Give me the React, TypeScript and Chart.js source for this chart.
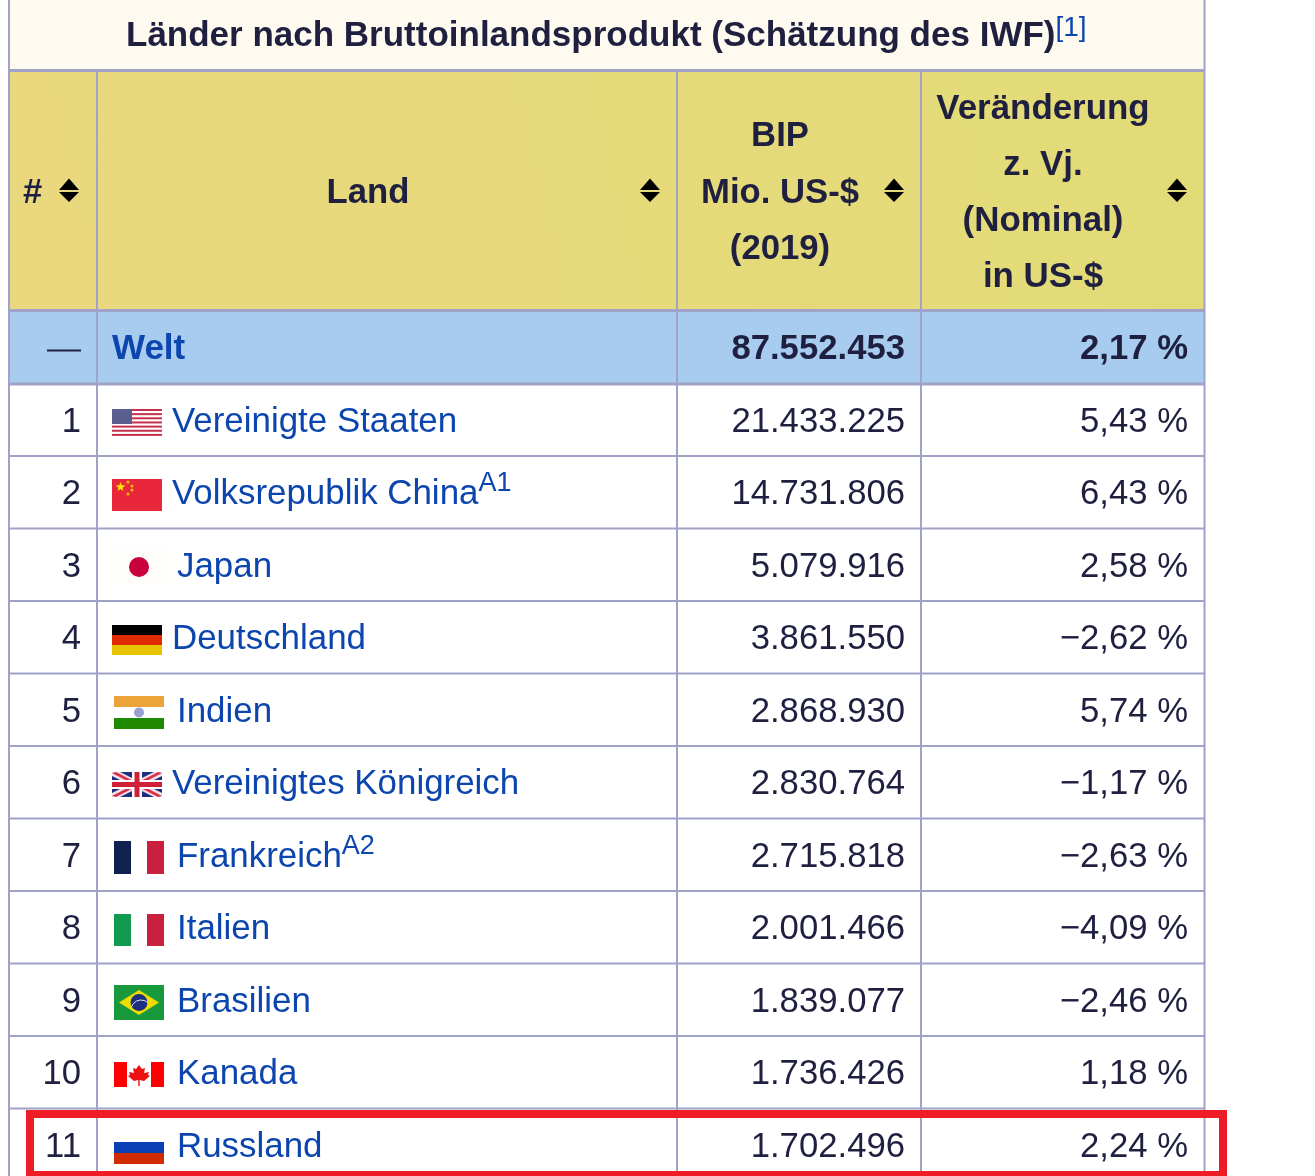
import React, { useEffect, useRef } from "react";
import { Chart, registerables } from "chart.js";

Chart.register(...registerables);

const tableTitle = "Länder nach Bruttoinlandsprodukt (Schätzung des IWF)";
const titleRef = "[1]";
const worldLabel = "Welt";
const worldGdp = 87552453;
const worldChange = 2.17;
const ranks = [1, 2, 3, 4, 5, 6, 7, 8, 9, 10, 11];
const countries = ["Vereinigte Staaten", "Volksrepublik China", "Japan", "Deutschland", "Indien", "Vereinigtes Königreich", "Frankreich", "Italien", "Brasilien", "Kanada", "Russland"];
const notes = ["", "A1", "", "", "", "", "A2", "", "", "", ""];
const flags = ["us", "cn", "jp", "de", "in", "gb", "fr", "it", "br", "ca", "ru"];
const gdpValues = [21433225, 14731806, 5079916, 3861550, 2868930, 2830764, 2715818, 2001466, 1839077, 1736426, 1702496];
const changes = [5.43, 6.43, 2.58, -2.62, 5.74, -1.17, -2.63, -4.09, -2.46, 1.18, 2.24];
const headGdp = ["BIP", "Mio. US-$", "(2019)"];
const headChange = ["Veränderung", "z. Vj.", "(Nominal)", "in US-$"];

const W = 1315, H = 1176;
const rowLines = [383.5, 456, 528.5, 601, 673.5, 746, 818.5, 891, 963.5, 1036, 1108.5];
const INK = "#1f2040", LINK = "#0b45ad", LINE = "#a0a2c8";
const FS = 34.7;

const fmtGdp = (v: number) => v.toLocaleString("de-DE");
const fmtChange = (v: number) => (v < 0 ? "−" : "") + Math.abs(v).toFixed(2).replace(".", ",") + " %";

const tablePlugin = {
  id: "table",
  afterDraw(chart: any) {
    const c = chart.ctx as CanvasRenderingContext2D;
    const X = (v: number) => chart.scales.x.getPixelForValue(v);
    const Y = (v: number) => chart.scales.y.getPixelForValue(v);
    const rect = (x0: number, y0: number, x1: number, y1: number, col: any) => {
      c.fillStyle = col;
      c.fillRect(X(x0), Y(y0), X(x1) - X(x0), Y(y1) - Y(y0));
    };
    const text = (s: string, x: number, y: number, o: any = {}) => {
      c.font = `${o.bold ? "bold " : ""}${o.size || FS}px "Liberation Sans", Arial, sans-serif`;
      c.fillStyle = o.color || INK;
      c.textAlign = o.align || "left";
      c.textBaseline = "alphabetic";
      c.fillText(s, X(x), Y(y));
      return c.measureText(s).width;
    };
    const poly = (pts: number[][], col: string) => {
      c.fillStyle = col;
      c.beginPath();
      pts.forEach((p, i) => (i ? c.lineTo(X(p[0]), Y(p[1])) : c.moveTo(X(p[0]), Y(p[1]))));
      c.closePath();
      c.fill();
    };
    const disc = (x: number, y: number, r: number, col: string) => {
      c.fillStyle = col;
      c.beginPath();
      c.arc(X(x), Y(y), r, 0, Math.PI * 2);
      c.fill();
    };
    const star = (x: number, y: number, r: number, col: string) => {
      const pts: number[][] = [];
      for (let k = 0; k < 10; k++) {
        const a = -Math.PI / 2 + (k * Math.PI) / 5;
        const rr = k % 2 ? r * 0.42 : r;
        pts.push([x + rr * Math.cos(a), y + rr * Math.sin(a)]);
      }
      poly(pts, col);
    };
    const sortIcon = (x: number) => {
      poly([[x - 10, 190], [x, 178.5], [x + 10, 190]], "#000");
      poly([[x - 10, 192], [x, 202], [x + 10, 192]], "#000");
    };

    // backgrounds
    rect(0, 0, W, H, "#ffffff");
    rect(8, 0, 1205, 70, "#fefaef");
    const grad = c.createLinearGradient(X(100), Y(310), X(1100), Y(70));
    grad.addColorStop(0, "#e9d87e");
    grad.addColorStop(1, "#e3db78");
    rect(8, 70, 1205, 310, grad);
    rect(8, 310, 1205, rowLines[0], "#a8ccf0");

    // grid
    [70, 310, ...rowLines].forEach((y) => rect(8, y - 1, 1205, y + (y < 400 ? 2 : 1), LINE));
    rect(8, 0, 10, H, LINE);
    rect(1203.5, 0, 1205.5, H, LINE);
    [96, 676, 920].forEach((x) => rect(x, 70, x + 2, H, LINE));

    // title
    const tw = text(tableTitle, 126, 46, { bold: true, size: 35 });
    text(titleRef, 126 + tw, 36, { color: LINK, size: 28 });

    // header
    text("#", 23, 203, { bold: true });
    sortIcon(69);
    text("Land", 368, 203, { bold: true, align: "center" });
    sortIcon(650);
    headGdp.forEach((s, i) => text(s, 780, 146 + i * 56.5, { bold: true, align: "center" }));
    sortIcon(894);
    headChange.forEach((s, i) => text(s, 1043, 119 + i * 56, { bold: true, align: "center", size: 34.9 }));
    sortIcon(1177);

    // world
    rect(47, 349.5, 81, 351.5, INK);
    text(worldLabel, 112, 359, { bold: true, color: LINK, size: 35 });
    text(fmtGdp(worldGdp), 905, 359, { bold: true, align: "right" });
    text(fmtChange(worldChange), 1188, 359, { bold: true, align: "right" });

    // rows
    ranks.forEach((rank, i) => {
      const top = rowLines[i];
      const base = Math.floor(top + 48.5);
      const flag = flags[i];
      const wide = flag === "us" || flag === "cn" || flag === "de" || flag === "gb";
      text(String(rank), 81, base, { align: "right" });
      const nameX = wide ? 172 : 177;
      const nw = text(countries[i], nameX, base, { color: LINK, size: 34.9 });
      if (notes[i]) text(notes[i], nameX + nw, base - 13, { color: LINK, size: 27 });
      text(fmtGdp(gdpValues[i]), 905, base, { align: "right" });
      text(fmtChange(changes[i]), 1188, base, { align: "right" });
      drawFlag(flag);
    });

    function drawFlag(code: string) {
      if (code === "us") {
        rect(112, 409, 162, 436, "#ffffff");
        for (let k = 0; k < 7; k++) rect(112, 409 + k * 4.15, 162, 411 + k * 4.15, "#c5324e");
        rect(112, 409, 132, 424, "#5a5f8f");
      } else if (code === "cn") {
        rect(112, 479, 162, 511, "#e8283a");
        star(120.5, 487, 5, "#ffe600");
        [[128, 482], [132, 486], [132, 490], [128, 494]].forEach((p) => disc(p[0], p[1], 1.5, "#f6c000"));
      } else if (code === "jp") {
        rect(113, 550, 167, 585, "#fffdfa");
        disc(139, 567, 10, "#c8003c");
      } else if (code === "de") {
        rect(112, 625, 162, 635, "#000000");
        rect(112, 635, 162, 645, "#e02a00");
        rect(112, 645, 162, 655, "#e8c400");
      } else if (code === "in") {
        rect(114, 696, 164, 707, "#eba33a");
        rect(114, 707, 164, 718, "#ffffff");
        rect(114, 718, 164, 729, "#1f8a00");
        disc(139, 712.5, 5, "#9aa0d0");
      } else if (code === "gb") {
        rect(112, 772, 162, 797, "#1c2f80");
        poly([[112, 772], [120, 772], [162, 793], [162, 797], [154, 797], [112, 776]], "#f4dfe4");
        poly([[162, 772], [154, 772], [112, 793], [112, 797], [120, 797], [162, 776]], "#f4dfe4");
        poly([[112, 773], [116, 772], [162, 796], [158, 797]], "#d8304a");
        poly([[162, 773], [158, 772], [112, 796], [116, 797]], "#d8304a");
        rect(132, 772, 142, 797, "#ffffff");
        rect(112, 780, 162, 789, "#ffffff");
        rect(134.5, 772, 139.5, 797, "#d02038");
        rect(112, 782, 162, 787, "#d02038");
      } else if (code === "fr") {
        rect(114, 841, 131, 874, "#10214f");
        rect(147, 841, 164, 874, "#c9203f");
      } else if (code === "it") {
        rect(114, 914, 131, 946, "#129a50");
        rect(147, 914, 164, 946, "#c9203f");
      } else if (code === "br") {
        rect(114, 985, 164, 1020, "#189a3c");
        poly([[119, 1002.5], [139, 990], [159, 1002.5], [139, 1015]], "#f0dc00");
        disc(139, 1002.5, 8.5, "#1c2f80");
        c.strokeStyle = "#dfe6f0";
        c.lineWidth = 1;
        c.beginPath();
        c.arc(X(141), Y(1010), 10, Math.PI * 1.1, Math.PI * 1.75);
        c.stroke();
      } else if (code === "ca") {
        rect(114, 1062, 127, 1087, "#ff0000");
        rect(151, 1062, 164, 1087, "#ff0000");
        poly([[139, 1065], [142, 1069], [145, 1068], [144, 1073], [149, 1072], [148, 1075], [150, 1076], [144, 1081], [139.7, 1080], [139.7, 1086], [138.3, 1086], [138.3, 1080], [134, 1081], [128, 1076], [130, 1075], [129, 1072], [134, 1073], [133, 1068], [136, 1069]], "#ee1111");
      } else if (code === "ru") {
        rect(114, 1142, 164, 1153, "#0a3fb5");
        rect(114, 1153, 164, 1164, "#d12c00");
      }
    }

    // highlight rectangle
    const RED = "#ee1c25";
    rect(26, 1110, 1227, 1118, RED);
    rect(26, 1171, 1227, 1176, RED);
    rect(26, 1110, 34, 1176, RED);
    rect(1219, 1110, 1227, 1176, RED);
  },
};

export default function App() {
  const ref = useRef<HTMLCanvasElement>(null);
  useEffect(() => {
    const chart = new Chart(ref.current!, {
      type: "scatter",
      data: {
        labels: countries,
        datasets: [{ label: "BIP", data: gdpValues.map((_, i) => ({ x: 905, y: rowLines[i] + 36 })), pointRadius: 0 }],
      },
      options: {
        animation: false,
        responsive: false,
        devicePixelRatio: 1,
        layout: { padding: 0 },
        plugins: { legend: { display: false }, tooltip: { enabled: false } },
        scales: {
          x: { type: "linear", display: false, min: 0, max: W },
          y: { type: "linear", display: false, min: 0, max: H, reverse: true },
        },
      },
      plugins: [tablePlugin],
    } as any);
    return () => chart.destroy();
  }, []);
  return (
    <div style={{ position: "absolute", left: 0, top: 0, width: W, height: H }}>
      <canvas ref={ref} width={W} height={H} />
    </div>
  );
}
